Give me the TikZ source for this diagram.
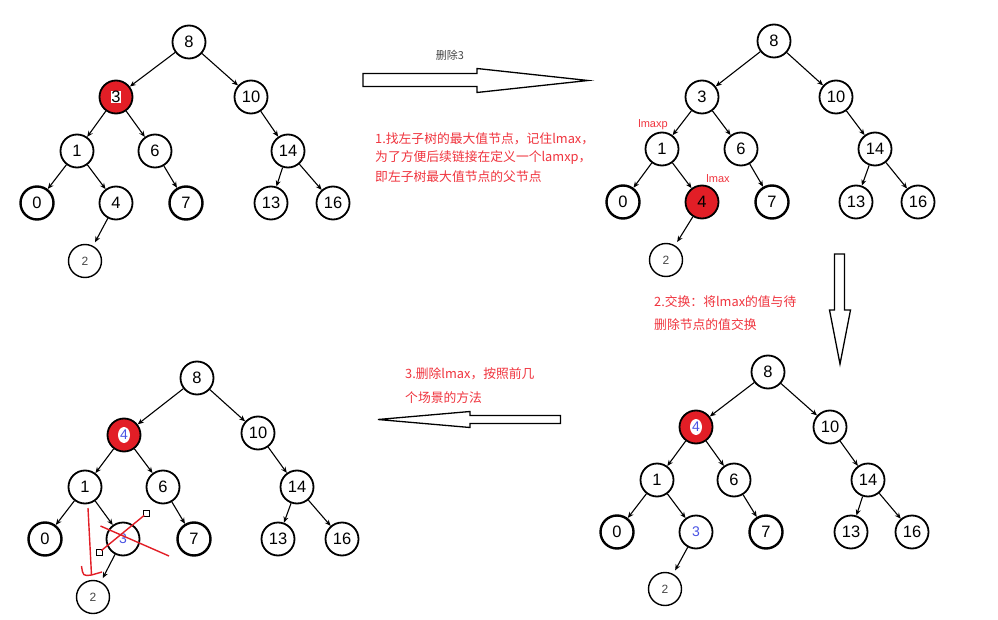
\documentclass[tikz,border=0pt]{standalone}
\usepackage{fontspec}
\setmainfont{Liberation Sans}
\newfontfamily\cjk{Noto Sans CJK SC}
\usetikzlibrary{arrows.meta}
\definecolor{nred}{RGB}{226,30,38}
\definecolor{tred}{RGB}{240,52,62}
\definecolor{nblue}{RGB}{72,82,228}
\definecolor{lgray}{RGB}{70,70,70}
\tikzset{
 tn/.style={circle,draw,line width=1.8pt,minimum size=33pt,inner sep=0pt,fill=white,font=\fontsize{16.5}{16.5}\selectfont},
 tnthick/.style={tn,line width=2.4pt},
 tnsmall/.style={tn,line width=1.4pt,font=\fontsize{12}{12}\selectfont,text=lgray},
 tnred/.style={tn,fill=nred},
 tnblue/.style={tn,text=nblue,font=\fontsize{14}{14}\selectfont},
 edge/.style={line width=1.1pt,-{Stealth[length=6pt,width=5pt]}},
 redtxt/.style={text=tred,font=\cjk\fontsize{12.8}{12.8}\selectfont,anchor=west,inner sep=0pt},
 smalllbl/.style={text=tred,font=\fontsize{11}{11}\selectfont,inner sep=0pt},
 bigarrow/.style={draw,line width=1.3pt,fill=white,line join=miter},
 redline/.style={draw=nred,line width=1.4pt},
 handle/.style={draw,line width=0.8pt,fill=white,minimum size=6pt,inner sep=0pt,rectangle}
}
\begin{document}
\begin{tikzpicture}[x=1pt,y=-1pt]
\useasboundingbox (0,0) rectangle (998,620);
\fill[white] (0,0) rectangle (998,620);

% ---------- tree a (top-left)
\node[tn] (a8) at (189,42) {8};
\node[tnred] (aL) at (116,97) {};
\node[fill=white,inner sep=0pt,font=\fontsize{16.5}{16.5}\selectfont] (aLt) at (aL) {3};
\node[tn] (a10) at (251,97) {10};
\node[tn] (a1) at (77,151) {1};
\node[tn] (a6) at (155,151) {6};
\node[tn] (a14) at (288,151) {14};
\node[tnthick] (a0) at (37,203) {0};
\node[tn] (aX) at (116,203) {4};
\node[tnthick] (a7) at (186,203) {7};
\node[tn] (a13) at (271,203) {13};
\node[tn] (a16) at (333,203) {16};
\node[tnsmall] (a2) at (85,261) {2};

% ---------- tree b (top-right)
\node[tn] (b8) at (774,41) {8};
\node[tn] (bL) at (702,97) {3};
\node[tn] (b10) at (836,97) {10};
\node[tn] (b1) at (662,149) {1};
\node[tn] (b6) at (741,149) {6};
\node[tn] (b14) at (875,149) {14};
\node[tnthick] (b0) at (623,202) {0};
\node[tnred] (bX) at (702,202) {4};
\node[tnthick] (b7) at (772,202) {7};
\node[tn] (b13) at (856,202) {13};
\node[tn] (b16) at (918,202) {16};
\node[tnsmall] (b2) at (666,260) {2};
\node[smalllbl] (blp) at (653,125) {lmaxp};
\node[smalllbl] (blm) at (718,179) {lmax};

% ---------- tree c (bottom-right)
\node[tn] (c8) at (768,372) {8};
\node[tnred] (cL) at (696,427) {};
\fill[white] (cL.center) ellipse (6pt and 8pt);
\node[text=nblue,font=\fontsize{14}{14}\selectfont] (cLt) at (cL) {4};
\node[tn] (c10) at (830,427) {10};
\node[tn] (c1) at (657,480) {1};
\node[tn] (c6) at (734,480) {6};
\node[tn] (c14) at (868,480) {14};
\node[tnthick] (c0) at (617,532) {0};
\node[tnblue] (cX) at (696,532) {3};
\node[tnthick] (c7) at (766,532) {7};
\node[tn] (c13) at (851,532) {13};
\node[tn] (c16) at (912,532) {16};
\node[tnsmall] (c2) at (665,589) {2};

% ---------- tree d (bottom-left)
\node[tn] (d8) at (197,378) {8};
\node[tnred] (dL) at (124,435) {};
\fill[white] (dL.center) ellipse (6pt and 8pt);
\node[text=nblue,font=\fontsize{14}{14}\selectfont] (dLt) at (dL) {4};
\node[tn] (d10) at (258,433) {10};
\node[tn] (d1) at (85,487) {1};
\node[tn] (d6) at (163,487) {6};
\node[tn] (d14) at (297,487) {14};
\node[tnthick] (d0) at (45,539) {0};
\node[tnblue] (dX) at (123,539) {3};
\node[tnthick] (d7) at (194,539) {7};
\node[tn] (d13) at (278,539) {13};
\node[tn] (d16) at (342,539) {16};
\node[tnsmall] (d2) at (93,597) {2};

% ---------- edges
\foreach \t in {a,b,c,d}{
  \foreach \u/\v in {8/L,8/10,L/1,L/6,10/14,1/0,1/X,6/7,14/13,14/16}{
    \draw[edge] (\t\u) -- (\t\v);
  }
  \draw[edge,shorten >=4pt] (\t X) -- (\t 2);
}

% ---------- red marks on tree d
\coordinate (dv1) at (88,508);
\coordinate (dv2) at (91.5,575);
\draw[redline] (dv1) -- (dv2);
\coordinate (dh1) at (81.5,566);
\coordinate (dh2) at (102,572);
\draw[redline] (dh1) .. controls (83,576) .. (dv2) -- (dh2);
\coordinate (dx1) at (100.5,526);
\coordinate (dx2) at (169,556);
\draw[redline] (dx1) -- (dx2);
\node[handle] (dq1) at (99,552.5) {};
\node[handle] (dq2) at (146.5,513.5) {};
\draw[redline,shorten <=3pt,shorten >=3pt] (dq1.center) -- (dq2.center);

% ---------- big arrows
\draw[bigarrow] (363,73.5) -- (477,73.5) -- (477,68.5) -- (588,80.5) -- (477,92.5) -- (477,86.5) -- (363,86.5) -- cycle;
\draw[bigarrow] (834.5,254) -- (844.5,254) -- (844.5,310) -- (850.5,310) -- (840,364) -- (829.5,310) -- (834.5,310) -- cycle;
\draw[bigarrow] (560.5,415.5) -- (470,415.5) -- (470,411.5) -- (378,419.5) -- (470,427.5) -- (470,423.5) -- (560.5,423.5) -- cycle;

% ---------- texts
\node[text=lgray,font=\cjk\fontsize{11}{11}\selectfont] (t0) at (450,55) {删除3};
\node[redtxt] (t1a) at (375,139) {1.找左子树的最大值节点，记住lmax，};
\node[redtxt] (t1b) at (375,158) {为了方便后续链接在定义一个lamxp，};
\node[redtxt] (t1c) at (375,177) {即左子树最大值节点的父节点};
\node[redtxt] (t2a) at (654,302) {2.交换：将lmax的值与待};
\node[redtxt] (t2b) at (654,325) {删除节点的值交换};
\node[redtxt] (t3a) at (405,374) {3.删除lmax，按照前几};
\node[redtxt] (t3b) at (405,398) {个场景的方法};
\end{tikzpicture}
\end{document}
